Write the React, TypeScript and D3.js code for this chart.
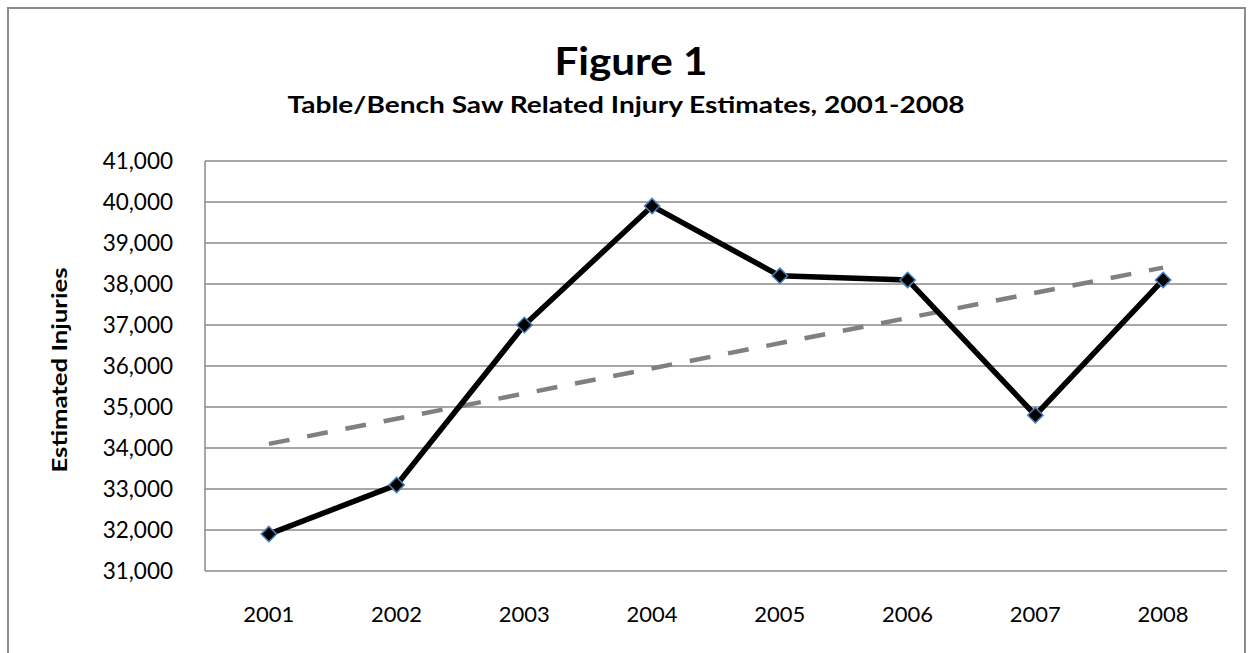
import * as d3 from "d3";

const years = ["2001", "2002", "2003", "2004", "2005", "2006", "2007", "2008"];
const injuries = [31900, 33100, 37000, 39900, 38200, 38100, 34800, 38100];
// linear trend line at its two ends
const trendYears = ["2001", "2008"];
const trendValues = [34100, 38400];
const yTicks = [31000, 32000, 33000, 34000, 35000, 36000, 37000, 38000, 39000, 40000, 41000];

const width = 1252;
const height = 653;
const marginLeft = 205;
const marginRight = 25;
const marginTop = 161;
const marginBottom = 82;

const font = "Lato, 'Open Sans', sans-serif";

export default function App() {
  const x = d3.scaleBand(years, [marginLeft, width - marginRight]);
  const cx = (d: string) => (x(d) ?? 0) + x.bandwidth() / 2;
  const y = d3.scaleLinear([31000, 41000], [height - marginBottom, marginTop]);

  const line = d3.line<number>()
    .x((_, i) => cx(years[i]))
    .y((d) => y(d));

  const trend = d3.line<number>()
    .x((_, i) => cx(trendYears[i]))
    .y((d) => y(d));

  const diamond = d3.symbol(d3.symbolDiamond2, 150)();
  const fmt = d3.format(",");

  return (
    <svg
      width={width}
      height={height}
      style={{ position: "absolute", left: 0, top: 0, background: "white" }}
      fontFamily={font}
    >
      {/* outer frame, bottom edge is cut off */}
      <rect x={8} y={8} width={1237} height={700} fill="none" stroke="#8c8c8c" strokeWidth={2} />

      <text
        x={631}
        y={75}
        textAnchor="middle"
        fontSize={39}
        fontWeight="bold"
        textLength={153}
        lengthAdjust="spacingAndGlyphs"
      >
        Figure 1
      </text>
      <text
        x={626}
        y={113}
        textAnchor="middle"
        fontSize={23}
        fontWeight="bold"
        textLength={677}
        lengthAdjust="spacingAndGlyphs"
      >
        Table/Bench Saw Related Injury Estimates, 2001-2008
      </text>

      {/* gridlines */}
      <g stroke="#8a8a8a" strokeWidth={1.5}>
        {yTicks.map((t) => (
          <line key={t} x1={marginLeft} x2={width - marginRight} y1={y(t)} y2={y(t)} />
        ))}
        <line x1={marginLeft} x2={marginLeft} y1={marginTop} y2={height - marginBottom} />
      </g>

      {/* y tick labels */}
      <g fontSize={22.5} textAnchor="end">
        {yTicks.map((t) => (
          <text key={t} x={173} y={y(t)} dy="0.36em">
            {fmt(t)}
          </text>
        ))}
      </g>

      {/* x labels */}
      <g fontSize={22} textAnchor="middle">
        {years.map((yr) => (
          <text key={yr} x={cx(yr)} y={622}>
            {yr}
          </text>
        ))}
      </g>

      <text
        transform="translate(67,370) rotate(-90)"
        textAnchor="middle"
        fontSize={21}
        fontWeight="bold"
        textLength={205}
        lengthAdjust="spacingAndGlyphs"
      >
        Estimated Injuries
      </text>

      {/* trend line */}
      <path
        d={trend(trendValues) ?? undefined}
        fill="none"
        stroke="#808080"
        strokeWidth={4.5}
        strokeDasharray="21 18"
      />

      {/* data line */}
      <path d={line(injuries) ?? undefined} fill="none" stroke="black" strokeWidth={5.5} />

      <g fill="black" stroke="#4a7ebb" strokeWidth={1.5}>
        {injuries.map((d, i) => (
          <path key={i} d={diamond ?? undefined} transform={`translate(${cx(years[i])},${y(d)})`} />
        ))}
      </g>
    </svg>
  );
}
